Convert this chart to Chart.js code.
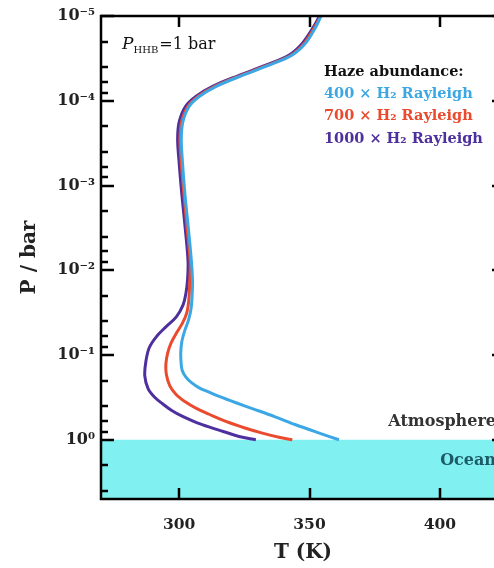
<!DOCTYPE html>
<html>
<head>
<meta charset="utf-8">
<title>T-P profiles</title>
<script src="https://cdn.jsdelivr.net/npm/chart.js@4.4.1/dist/chart.umd.min.js"></script>
<style>
  html, body { margin: 0; padding: 0; background: #fff; overflow: hidden; }
  #wrap { width: 520px; height: 568px; }
</style>
</head>
<body>
<div id="wrap"><canvas id="profiles" width="520" height="568"></canvas></div>
<script>
// upper atmosphere levels (bar), the same for all three runs
const pressureUpper = [1e-5, 1.35e-5, 2.09e-5, 2.88e-5, 3.8e-5, 5.01e-5, 6.76e-5, 8.91e-5,
  1.17e-4, 1.78e-4, 2.82e-4, 5.01e-4, 1.26e-3, 3.16e-3, 7.94e-3];

// lower atmosphere levels (bar) for each run
const pressureLower400 = [0.013, 0.0185, 0.0277, 0.0385, 0.0519, 0.0698, 0.0942, 0.12,
  0.15, 0.181, 0.21, 0.244, 0.275, 0.308, 0.366, 0.443, 0.536, 0.665, 0.817, 1];
const pressureLower700 = [0.0149, 0.0223, 0.0318, 0.0417, 0.0547, 0.0718, 0.0942, 0.127,
  0.171, 0.231, 0.294, 0.356, 0.423, 0.5, 0.608, 0.721, 0.834, 0.933, 1];
const pressureLower1000 = [0.013, 0.0186, 0.0256, 0.0355, 0.0465, 0.061, 0.0822, 0.12,
  0.176, 0.251, 0.32, 0.376, 0.455, 0.531, 0.631, 0.728, 0.826, 0.914, 1];

// temperature (K), upper then lower levels
const temp400 = [354.4, 352.4, 348.5, 343.4, 334.5, 324.3, 314.2, 307.7, 303.8, 301.4,
  300.8, 301.2, 302.2, 303.5, 304.7,
  305.1, 305.0, 304.6, 303.6, 302.1, 301.0, 300.6, 300.7, 301.1, 302.5,
  304.6, 307.7, 311.5, 315.3, 321.8, 329.4, 336.8, 344.7, 352.9, 361.3];
const temp700 = [354.2, 352.0, 348.0, 343.0, 334.0, 323.8, 313.6, 307.2, 303.3, 300.9,
  300.3, 300.7, 301.8, 303.0, 304.2,
  304.0, 303.7, 302.9, 301.3, 299.0, 296.9, 295.6, 294.9, 295.1, 296.4,
  298.9, 302.3, 306.4, 311.5, 317.9, 324.9, 331.9, 338.3, 343.4];
const temp1000 = [353.8, 351.5, 347.3, 342.2, 333.2, 323.0, 312.8, 306.4, 302.4, 300.0,
  299.4, 299.9, 301.0, 302.3, 303.4,
  303.2, 302.6, 301.5, 298.9, 294.9, 291.2, 288.5, 287.2, 286.8, 288.1,
  290.8, 293.6, 297.3, 301.3, 306.9, 312.8, 318.4, 323.0, 329.4];

const seriesLabels = ['400 × H₂ Rayleigh', '700 × H₂ Rayleigh', '1000 × H₂ Rayleigh'];
const seriesColors = ['#3ba7e5', '#ea4b2e', '#4d2f9e'];

const tempTicks = [300, 350, 400];
const pressureTicks = [1e-5, 1e-4, 1e-3, 1e-2, 1e-1, 1];
const tempRange = [270, 425];
const pressureRange = [1e-5, 5];
const surfacePressure = 1;

const SERIF = '"DejaVu Serif", "Liberation Serif", serif';
const SUP = { '0': '⁰', '1': '¹', '2': '²', '3': '³', '4': '⁴', '5': '⁵', '-': '⁻' };

function toPoints(temps, lower) {
  const levels = pressureUpper.concat(lower);
  return temps.map((t, i) => ({ x: t, y: levels[i] }));
}

function profile(i, temps, lower) {
  return {
    label: seriesLabels[i],
    data: toPoints(temps, lower),
    borderColor: seriesColors[i],
    backgroundColor: seriesColors[i],
    borderWidth: 3,
    pointRadius: 0,
    tension: 0.35,
    showLine: true,
    fill: false
  };
}

// spines, inward ticks and text labels
const decorations = {
  id: 'decorations',
  afterDatasetsDraw(chart) {
    const { ctx, chartArea: a, scales: { x, y } } = chart;
    ctx.save();
    ctx.strokeStyle = '#000';
    ctx.lineWidth = 2.5;
    ctx.beginPath();
    for (let e = -5; e <= 0; e++) {
      for (const m of [1, 2, 4, 6, 8]) {
        const v = m * Math.pow(10, e);
        if (v > y.max) continue;
        const py = Math.round(y.getPixelForValue(v));
        const len = m === 1 ? 13 : 7;
        ctx.moveTo(a.left, py); ctx.lineTo(a.left + len, py);
        ctx.moveTo(a.right, py); ctx.lineTo(a.right - len, py);
      }
    }
    for (const t of tempTicks) {
      const px = Math.round(x.getPixelForValue(t));
      ctx.moveTo(px, a.bottom); ctx.lineTo(px, a.bottom - 11);
      ctx.moveTo(px, a.top); ctx.lineTo(px, a.top + 11);
    }
    ctx.stroke();
    ctx.strokeRect(a.left, a.top, a.right - a.left, a.bottom - a.top);
    ctx.restore();
  },
  afterDraw(chart) {
    const { ctx, chartArea: a, scales: { y } } = chart;
    ctx.save();
    ctx.textBaseline = 'alphabetic';
    ctx.fillStyle = '#111';

    // P_HHB = 1 bar
    let px = a.left + 21;
    ctx.font = 'italic 17px ' + SERIF;
    ctx.fillText('P', px, 49);
    px += ctx.measureText('P').width;
    ctx.font = '10px ' + SERIF;
    ctx.fillText('HHB', px, 53);
    px += ctx.measureText('HHB').width + 1;
    ctx.font = '16px ' + SERIF;
    ctx.fillText('=1 bar', px, 49);

    // haze legend
    ctx.textBaseline = 'middle';
    ctx.font = 'bold 14.5px ' + SERIF;
    ctx.fillStyle = '#111';
    ctx.fillText('Haze abundance:', 324, 72);
    chart.data.datasets.forEach((ds, i) => {
      if (!ds.label || i >= seriesLabels.length) return;
      ctx.fillStyle = ds.borderColor;
      ctx.fillText(ds.label, 324, 94 + i * 22.5);
    });

    // atmosphere / ocean boundary
    const py = y.getPixelForValue(surfacePressure);
    ctx.textAlign = 'right';
    ctx.font = 'bold 16px ' + SERIF;
    ctx.fillStyle = '#333';
    ctx.fillText('Atmosphere', 496, py - 18);
    ctx.fillStyle = '#1d5a66';
    ctx.fillText('Ocean', 496, py + 21);
    ctx.restore();
  }
};

const datasets = [
  profile(0, temp400, pressureLower400),
  profile(1, temp700, pressureLower700),
  profile(2, temp1000, pressureLower1000),
  {
    label: '',
    data: [{ x: tempRange[0], y: surfacePressure }, { x: tempRange[1], y: surfacePressure }],
    borderWidth: 0,
    pointRadius: 0,
    showLine: true,
    backgroundColor: '#80f0f0',
    fill: { value: pressureRange[1] }
  }
];

const config = {
  type: 'scatter',
  data: { datasets: datasets },
  options: {
    responsive: false,
    animation: false,
    layout: { padding: { top: 16, right: 15, left: 0, bottom: 0 } },
    plugins: {
      legend: { display: false },
      tooltip: { enabled: false }
    },
    scales: {
      x: {
        type: 'linear',
        min: tempRange[0],
        max: tempRange[1],
        afterBuildTicks: (scale) => { scale.ticks = tempTicks.map(v => ({ value: v })); },
        afterFit: (scale) => { scale.height = 69; },
        grid: { display: false, drawTicks: false },
        border: { display: false },
        ticks: {
          padding: 17,
          color: '#222',
          font: { family: SERIF, size: 15.5, weight: 'bold' }
        },
        title: {
          display: true,
          text: 'T (K)',
          color: '#222',
          padding: { top: 0, bottom: 3 },
          font: { family: SERIF, size: 20, weight: 'bold' }
        }
      },
      y: {
        type: 'logarithmic',
        reverse: true,
        min: pressureRange[0],
        max: pressureRange[1],
        afterBuildTicks: (scale) => { scale.ticks = pressureTicks.map(v => ({ value: v })); },
        afterFit: (scale) => { scale.width = 101; },
        grid: { display: false, drawTicks: false },
        border: { display: false },
        ticks: {
          padding: 6,
          color: '#222',
          font: { family: SERIF, size: 16, weight: 'bold' },
          callback: (v) => {
            const e = String(Math.round(Math.log10(v)));
            return '10' + e.split('').map(c => SUP[c]).join('');
          }
        },
        title: {
          display: true,
          text: 'P / bar',
          color: '#222',
          padding: { top: 18, bottom: 0 },
          font: { family: SERIF, size: 20, weight: 'bold' }
        }
      }
    }
  },
  plugins: [decorations]
};

new Chart(document.getElementById('profiles'), config);
</script>
</body>
</html>
